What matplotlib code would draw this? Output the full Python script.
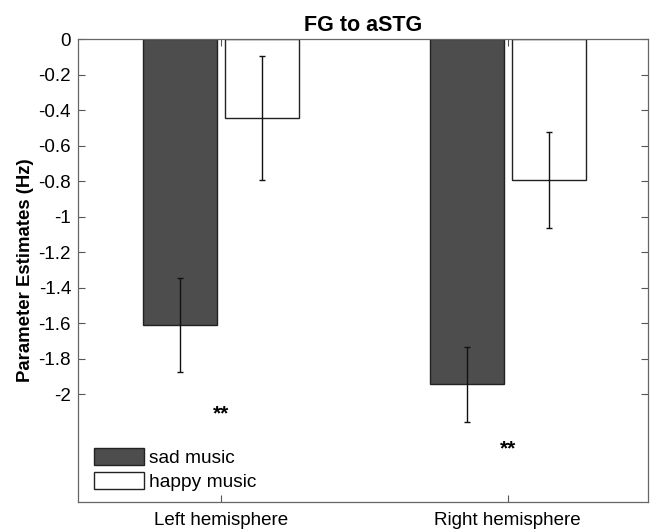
import numpy as np
import matplotlib
matplotlib.use('Agg')
import matplotlib.pyplot as plt

plt.rcParams['font.family'] = ['Liberation Sans', 'DejaVu Sans']

# values
groups = ['Left hemisphere', 'Right hemisphere']
conditions = ['sad music', 'happy music']
sad_mean = [-1.61, -1.945]
sad_err = [0.265, 0.21]
happy_mean = [-0.445, -0.792]
happy_err = [0.35, 0.27]
star_y = [-2.11, -2.31]
yticks = [0, -0.2, -0.4, -0.6, -0.8, -1, -1.2, -1.4, -1.6, -1.8, -2]

fig = plt.figure(figsize=(6.5, 5.3), dpi=100)
ax = fig.add_axes([0.12, 0.053, 0.877, 0.873])

x = np.arange(1, len(groups) + 1)
w = 0.258
off = 0.143
edge = '#222222'

ax.bar(x - off, sad_mean, w, color='#4d4d4d', edgecolor=edge, linewidth=1.0,
       label=conditions[0])
ax.bar(x + off, happy_mean, w, color='white', edgecolor=edge, linewidth=1.0,
       label=conditions[1])
ax.errorbar(x - off, sad_mean, yerr=sad_err, fmt='none', ecolor='#111111',
            elinewidth=1.0, capsize=2, capthick=1.0)
ax.errorbar(x + off, happy_mean, yerr=happy_err, fmt='none', ecolor='#111111',
            elinewidth=1.0, capsize=2, capthick=1.0)

for xi, yi in zip(x, star_y):
    ax.text(xi, yi, '**', ha='center', va='center', fontsize=15, fontweight='bold')

ax.set_xlim(0.5, 2.49)
ax.set_ylim(-2.607, 0)
ax.set_yticks(yticks)
ax.set_yticklabels(['0' if t == 0 else ('%g' % t) for t in yticks])
ax.set_xticks(x)
ax.set_xticklabels(groups)
ax.tick_params(direction='in', length=5, width=0.8, colors='#555555',
               labelcolor='black', labelsize=13.5, top=True, right=True, pad=5)
ax.tick_params(axis='x', pad=7)
for s in ax.spines.values():
    s.set_color('#666666')
    s.set_linewidth(0.9)

ax.set_ylabel('Parameter Estimates (Hz)', fontsize=13.4, fontweight='bold', labelpad=3)
ax.set_title('FG to aSTG', fontsize=15.5, fontweight='bold', pad=6)

leg = ax.legend(loc='lower left', bbox_to_anchor=(0.01, 0.0), frameon=False,
                fontsize=13.8, handlelength=2.6, handleheight=1.0,
                handletextpad=0.25, labelspacing=0.25, borderaxespad=0.15)

fig.savefig('out.png', dpi=100)
